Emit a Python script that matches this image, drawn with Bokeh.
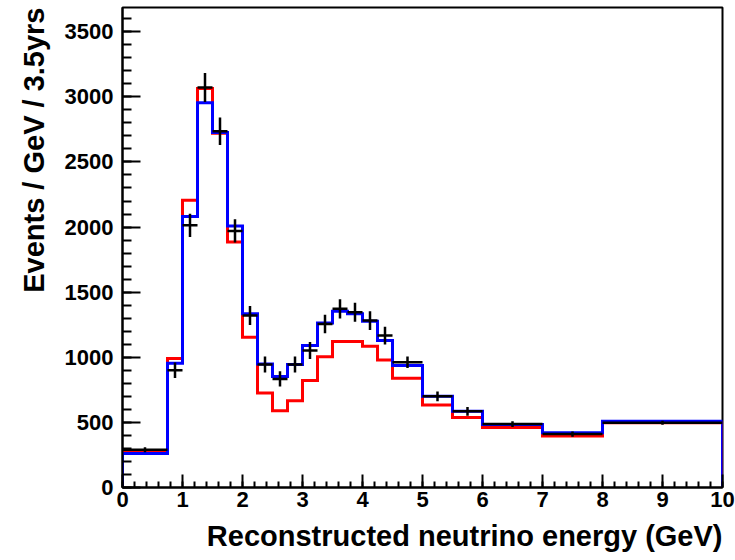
from bokeh.plotting import figure
from bokeh.models import SingleIntervalTicker, Title, Range1d
from bokeh.embed import file_html
from bokeh.resources import INLINE

# Bin edges of the reconstructed-energy histogram (GeV)
edges = [0.0, 0.75, 1.0, 1.25, 1.5, 1.75, 2.0, 2.25, 2.5, 2.75, 3.0, 3.25,
         3.5, 3.75, 4.0, 4.25, 4.5, 5.0, 5.5, 6.0, 7.0, 8.0, 10.0]

# Prediction without the extra contribution (red)
red = [275, 990, 2205, 3064, 2720, 1885, 1154, 726, 590, 667, 821, 1005,
       1121, 1121, 1085, 980, 839, 634, 538, 461, 395, 497]

# Best-fit prediction (blue)
blue = [262, 954, 2082, 2954, 2726, 2008, 1334, 949, 852, 944, 1090, 1264,
        1354, 1334, 1277, 1128, 936, 700, 585, 484, 420, 508]

# Simulated data points and their statistical errors
data = [290, 900, 2013, 3072, 2736, 1970, 1321, 945, 834, 945, 1052, 1256,
        1372, 1346, 1282, 1167, 962, 700, 585, 487, 410, 497]
data_err = [20, 60, 90, 111, 105, 89, 73, 61, 58, 61, 65, 71,
            74, 73, 72, 68, 44, 37, 34, 22, 20, 16]

x_ticks_interval = 1
y_ticks_interval = 500

FONT = "Liberation Sans"


def outline(edges, values):
    xs, ys = [edges[0]], [0]
    for lo, hi, v in zip(edges[:-1], edges[1:], values):
        xs += [lo, hi]
        ys += [v, v]
    xs.append(edges[-1])
    ys.append(0)
    return xs, ys


p = figure(width=735, height=560, output_backend="svg", toolbar_location=None,
           x_range=Range1d(0, 10), y_range=Range1d(0, 3686),
           min_border_left=122, min_border_right=13,
           min_border_top=7, min_border_bottom=73)
p.background_fill_color = "white"
p.border_fill_color = "white"
p.xgrid.visible = False
p.ygrid.visible = False
p.outline_line_color = "black"
p.outline_line_width = 2
p.outline_line_alpha = 1.0

for vals, col in ((red, "#ff0000"), (blue, "#0000ff")):
    xs, ys = outline(edges, vals)
    p.line(xs, ys, line_color=col, line_width=3, line_join="miter")

lo = edges[:-1]
hi = edges[1:]
mid = [(a + b) / 2 for a, b in zip(lo, hi)]
p.segment(x0=lo, x1=hi, y0=data, y1=data, line_color="black", line_width=2.5)
p.segment(x0=mid, x1=mid,
          y0=[v - e for v, e in zip(data, data_err)],
          y1=[v + e for v, e in zip(data, data_err)],
          line_color="black", line_width=2.5)

xa = p.xaxis[0]
xa.ticker = SingleIntervalTicker(interval=x_ticks_interval, num_minor_ticks=5)
xa.major_tick_in = 13
xa.major_tick_out = 0
xa.minor_tick_in = 6
xa.minor_tick_out = 0
xa.major_label_standoff = 4

ya = p.yaxis[0]
ya.ticker = SingleIntervalTicker(interval=y_ticks_interval, num_minor_ticks=5)
ya.major_tick_in = 18
ya.major_tick_out = 0
ya.minor_tick_in = 9
ya.minor_tick_out = 0
ya.major_label_standoff = 9

for ax in (xa, ya):
    ax.axis_line_width = 2
    ax.major_tick_line_width = 2
    ax.minor_tick_line_width = 2
    ax.axis_line_color = "black"
    ax.major_tick_line_color = "black"
    ax.minor_tick_line_color = "black"
    ax.major_label_text_font = FONT
    ax.major_label_text_font_style = "bold"
    ax.major_label_text_font_size = "22px"
    ax.major_label_text_color = "black"

x_title = Title(text="Reconstructed neutrino energy (GeV)", align="right",
                text_font=FONT, text_font_style="bold",
                text_font_size="29px", text_color="black", standoff=17)
p.add_layout(x_title, "below")

y_title = Title(text="Events / GeV / 3.5yrs", align="right",
                text_font=FONT, text_font_style="bold",
                text_font_size="29px", text_color="black", standoff=23)
p.add_layout(y_title, "left")

open("out.html", "w").write(file_html(p, INLINE))
